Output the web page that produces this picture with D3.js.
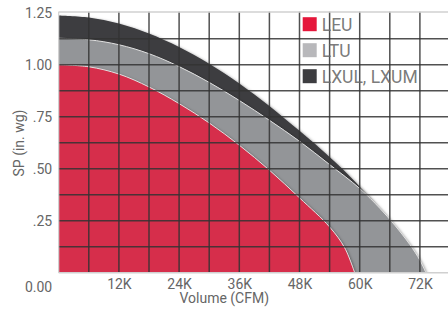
<!DOCTYPE html>
<html>
<head>
<meta charset="utf-8">
<script src="https://cdn.jsdelivr.net/npm/d3@7"></script>
<style>
  body { margin: 0; background: #fff; }
  svg text { font-family: Roboto, "Noto Sans", sans-serif; fill: #666; }
</style>
</head>
<body>
<div id="chart"></div>
<script>
// fan curves, volume in K CFM vs static pressure (in. wg)
var lxulVolume = [0, 6, 12, 18, 24, 30, 36, 42, 48, 52, 56, 59, 62, 65, 68, 70.5, 72];
var lxulSP     = [1.237, 1.227, 1.198, 1.15, 1.085, 1.005, 0.91, 0.802, 0.682, 0.6, 0.512, 0.44, 0.36, 0.27, 0.17, 0.08, 0];

var ltuVolume = [0, 6, 12, 18, 24, 30, 36, 42, 48, 54, 60, 64, 67, 70, 72, 73.2];
var ltuSP     = [1.127, 1.12, 1.096, 1.053, 0.991, 0.915, 0.828, 0.733, 0.632, 0.52, 0.405, 0.31, 0.228, 0.135, 0.06, 0];

var leuVolume = [0, 6, 12, 18, 24, 30, 36, 42, 48, 54, 57, 59];
var leuSP     = [1.0, 0.99, 0.955, 0.893, 0.813, 0.72, 0.613, 0.493, 0.36, 0.22, 0.12, 0];

var seriesNames = ["LEU", "LTU", "LXUL, LXUM"];
var xTicks = [12, 24, 36, 48, 60, 72];
var yTicks = [0.25, 0.5, 0.75, 1.0, 1.25];

var fillColors = {"LEU": "#d62f4b", "LTU": "#939598", "LXUL, LXUM": "#3d3d40"};
var legendColors = {"LEU": "#e5173b", "LTU": "#b8b8bb", "LXUL, LXUM": "#3d3d40"};

function zipData(xs, ys) {
    return xs.map(function(x, i) { return {v: x, sp: ys[i]}; });
}

var series = [
    {name: "LXUL, LXUM", values: zipData(lxulVolume, lxulSP)},
    {name: "LTU", values: zipData(ltuVolume, ltuSP)},
    {name: "LEU", values: zipData(leuVolume, leuSP)}
];

var W = 448, H = 311;
var margin = {top: 12.7, right: 0, bottom: 38.3, left: 58.7};
var width = W - margin.left - margin.right,
    height = H - margin.top - margin.bottom;

var svg = d3.select("#chart").append("svg")
    .attr("width", W)
    .attr("height", H);

var defs = svg.append("defs");
var shadow = defs.append("filter").attr("id", "shadow")
    .attr("x", "-10%").attr("y", "-10%").attr("width", "130%").attr("height", "130%");
shadow.append("feDropShadow")
    .attr("dx", 1.3).attr("dy", 1.3)
    .attr("stdDeviation", 1.4)
    .attr("flood-color", "#000")
    .attr("flood-opacity", 0.5);

defs.append("clipPath").attr("id", "plotclip")
    .append("rect").attr("width", width).attr("height", height);

var g = svg.append("g")
    .attr("transform", "translate(" + margin.left + "," + margin.top + ")");

var x = d3.scaleLinear().domain([0, 77.6]).range([0, width]);
var y = d3.scaleLinear().domain([0, 1.25]).range([height, 0]);

var area = d3.area()
    .x(function(d) { return x(d.v); })
    .y0(height)
    .y1(function(d) { return y(d.sp); })
    .curve(d3.curveCatmullRom.alpha(0.5));

var line = d3.line()
    .x(function(d) { return x(d.v); })
    .y(function(d) { return y(d.sp); })
    .curve(d3.curveCatmullRom.alpha(0.5));

var plot = g.append("g").attr("clip-path", "url(#plotclip)");

series.forEach(function(s) {
    plot.append("path")
        .datum(s.values)
        .attr("d", area)
        .attr("fill", fillColors[s.name])
        .attr("filter", "url(#shadow)");
    if (s.name != "LXUL, LXUM") {
        plot.append("path")
            .datum(s.values)
            .attr("d", line)
            .attr("fill", "none")
            .attr("stroke", "#e2e2e2")
            .attr("stroke-width", 1);
    }
});

// grid on top of the areas
var xGrid = d3.range(6, 78, 6);
var yGrid = d3.range(0.125, 1.25, 0.125);

g.append("g").selectAll("line")
    .data(xGrid)
    .join("line")
    .attr("x1", function(d) { return x(d); })
    .attr("x2", function(d) { return x(d); })
    .attr("y1", -1)
    .attr("y2", height)
    .attr("stroke", "#333")
    .attr("stroke-opacity", 0.85)
    .attr("stroke-width", 1.5);

g.append("g").selectAll("line")
    .data(yGrid)
    .join("line")
    .attr("x1", 0)
    .attr("x2", width)
    .attr("y1", function(d) { return y(d); })
    .attr("y2", function(d) { return y(d); })
    .attr("stroke", "#333")
    .attr("stroke-opacity", 0.85)
    .attr("stroke-width", 1.5);

// light frame
g.append("line").attr("x1", 0).attr("x2", width).attr("y1", -0.8).attr("y2", -0.8)
    .attr("stroke", "#d0d0d0").attr("stroke-width", 1.5);
g.append("line").attr("x1", 0).attr("x2", width).attr("y1", height).attr("y2", height)
    .attr("stroke", "#d0d0d0").attr("stroke-width", 1.5);
g.append("line").attr("x1", 0).attr("x2", 0).attr("y1", -1).attr("y2", height)
    .attr("stroke", "#d0d0d0").attr("stroke-width", 1.2);

// axes
var xAxis = d3.axisBottom(x)
    .tickValues(xTicks)
    .tickSize(0)
    .tickPadding(6)
    .tickFormat(function(d) { return d + "K"; });

var yAxis = d3.axisLeft(y)
    .tickValues(yTicks)
    .tickSize(0)
    .tickPadding(6.5)
    .tickFormat(function(d) { return d >= 1 ? d3.format(".2f")(d) : d3.format(".2f")(d).replace(/^0/, ""); });

var xg = g.append("g")
    .attr("class", "x-axis axis")
    .attr("transform", "translate(0," + height + ")")
    .call(xAxis);
xg.select(".domain").remove();
xg.selectAll("text").style("font-size", "14px").style("fill", "#666");

var yg = g.append("g")
    .attr("class", "y-axis axis")
    .call(yAxis);
yg.select(".domain").remove();
yg.selectAll("text").style("font-size", "14px").style("fill", "#666");

// zero label sits on the x tick row
g.append("text")
    .attr("x", -6.5)
    .attr("y", height + 19.3)
    .style("text-anchor", "end")
    .style("font-size", "14px")
    .text("0.00");

// axis titles
g.append("text")
    .attr("x", x(33))
    .attr("y", height + 30.5)
    .style("text-anchor", "middle")
    .style("font-size", "14px")
    .text("Volume (CFM)");

svg.append("text")
    .attr("transform", "translate(24," + 143 + ") rotate(-90)")
    .style("text-anchor", "middle")
    .style("font-size", "14px")
    .text("SP (in. wg)");

// legend
var legend = svg.append("g").attr("transform", "translate(302.7,17.2)");
seriesNames.forEach(function(name, i) {
    var row = legend.append("g").attr("transform", "translate(0," + (i * 26) + ")");
    row.append("rect")
        .attr("width", 14)
        .attr("height", 14)
        .attr("fill", legendColors[name]);
    row.append("text")
        .attr("x", 19)
        .attr("y", 13.5)
        .style("font-size", "17.5px")
        .style("fill", "#6a6a6a")
        .style("fill-opacity", 0.9)
        .text(name);
});
</script>
</body>
</html>
